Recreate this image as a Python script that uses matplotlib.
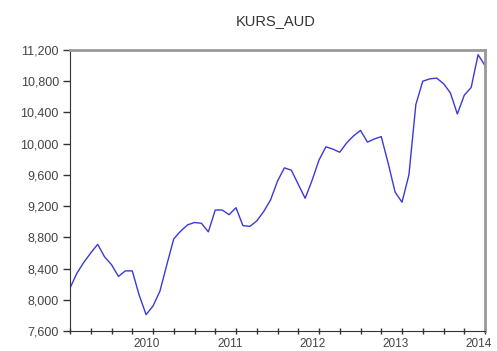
import numpy as np
import matplotlib
matplotlib.use("Agg")
import matplotlib.pyplot as plt
from matplotlib.ticker import FuncFormatter

# Monthly series 2009M01 - 2014M01
start_year = 2009
kurs_aud = [8150, 8340, 8480, 8600, 8710, 8550, 8450, 8300, 8370, 8370,
            8060, 7810, 7920, 8110, 8450, 8780, 8880, 8960, 8990, 8980,
            8870, 9150, 9150, 9090, 9180, 8950, 8940, 9010, 9130, 9280,
            9520, 9690, 9660, 9480, 9300, 9530, 9790, 9960, 9930, 9890,
            10010, 10100, 10170, 10020, 10060, 10090, 9750, 9380, 9250, 9600,
            10500, 10800, 10830, 10840, 10770, 10650, 10380, 10620, 10720, 11140,
            11000]
year_labels = ["2010", "2011", "2012", "2013", "2014"]
y_ticks = [7600, 8000, 8400, 8800, 9200, 9600, 10000, 10400, 10800, 11200]

plt.rcParams['font.family'] = ['Liberation Sans', 'DejaVu Sans']

fig = plt.figure(figsize=(4.97, 3.51), dpi=100)
ax = fig.add_axes([70 / 497, 20 / 351, 415 / 497, 281 / 351])

t = np.arange(len(kurs_aud))
ax.plot(t, kurs_aud, color='#3a3ad6', linewidth=1.0)

ax.set_xlim(0, len(kurs_aud) - 1)
ax.set_ylim(y_ticks[0], y_ticks[-1])

# y axis
ax.set_yticks(y_ticks)
ax.yaxis.set_major_formatter(FuncFormatter(lambda v, p: "{:,.0f}".format(v)))
ax.tick_params(axis='y', direction='out', length=5, width=1, colors='#333333',
               labelsize=9, labelcolor='#444444', pad=3)

# x axis: quarterly tick marks, year labels
ax.set_xticks(np.arange(0, len(kurs_aud), 3), minor=True)
ax.tick_params(axis='x', which='minor', direction='inout', length=4, width=1, colors='#333333')
ax.set_xticks([12 * (k + 1) - 0.9 for k in range(len(year_labels))])
ax.set_xticklabels(year_labels)
ax.tick_params(axis='x', which='major', length=0, labelsize=8.5, labelcolor='#444444', pad=5)

# frame
ax.spines['left'].set_color('#333333')
ax.spines['bottom'].set_color('#333333')
ax.spines['top'].set_color('#999999')
ax.spines['right'].set_color('#999999')
ax.spines['top'].set_linewidth(2)
ax.spines['right'].set_linewidth(2)

fig.text(276 / 497, 1 - 21 / 351, "KURS_AUD", ha='center', va='center',
         fontsize=10.5, color='#333333')

fig.savefig("out.png", dpi=100)
